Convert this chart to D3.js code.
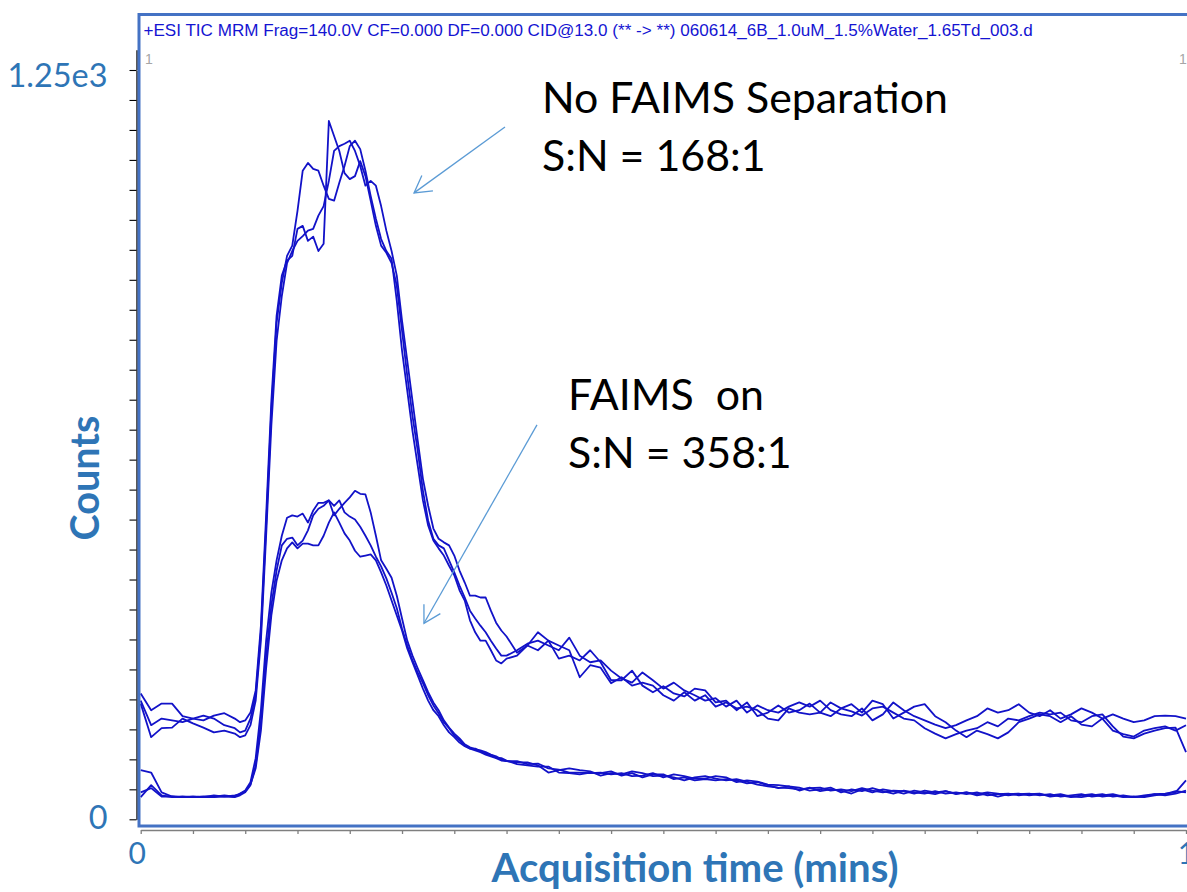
<!DOCTYPE html>
<html><head><meta charset="utf-8">
<script src="https://cdn.jsdelivr.net/npm/d3@7/dist/d3.min.js"></script>
<style>html,body{margin:0;padding:0;background:#fff;overflow:hidden}</style>
</head><body><svg id="c" width="1187" height="892"></svg>
<script>
// ---------------- DATA ----------------
const times = [
0,0.01,0.02,0.03,0.04,0.05,0.06,0.07,0.08,0.09,
0.095,0.1,0.105,0.11,0.115,0.12,0.125,0.13,0.135,0.14,
0.145,0.15,0.155,0.16,0.165,0.17,0.175,0.18,0.185,0.19,
0.195,0.2,0.205,0.21,0.215,0.22,0.225,0.23,0.235,0.24,
0.245,0.25,0.255,0.26,0.265,0.27,0.275,0.28,0.285,0.29,
0.295,0.3,0.305,0.31,0.315,0.32,0.325,0.33,0.335,0.34,
0.345,0.35,
0.36,0.37,0.38,0.39,0.4,0.41,0.42,0.43,0.44,0.45,
0.46,0.47,0.48,0.49,0.5,0.51,0.52,0.53,0.54,0.55,
0.56,0.57,0.58,0.59,0.6,0.61,0.62,0.63,0.64,0.65,
0.66,0.67,0.68,0.69,0.7,0.71,0.72,0.73,0.74,0.75,
0.76,0.77,0.78,0.79,0.8,0.81,0.82,0.83,0.84,0.85,
0.86,0.87,0.88,0.89,0.9,0.91,0.92,0.93,0.94,0.95,
0.96,0.97,0.98,0.99,1];

// No FAIMS separation (three replicate injections)
const noFaims1 = [
210,182,193,193,172,168,165,173,177,168,
162,165,178,215,323,507,698,840,907,932,
940,985,990,965,972,948,960,1165,1140,1115,
1078,1068,1073,1098,1073,1032,990,957,945,928,
890,815,740,673,615,548,498,468,457,452,
432,412,390,370,348,335,323,312,298,285,
273,273,
282,293,298,290,282,303,273,262,265,248,
235,228,245,232,218,228,215,207,198,202,
188,198,178,190,182,178,188,195,188,198,
182,175,172,185,165,175,195,182,172,165,
158,152,157,165,172,185,178,182,192,178,
172,182,168,175,185,178,168,175,168,162,
165,172,173,172,168];
const noFaims2 = [
198,157,168,165,162,168,173,168,157,152,
145,148,168,207,312,490,682,828,895,940,
957,1015,1082,1095,1085,1082,1057,1035,1032,1062,
1090,1123,1132,1118,1082,1040,1002,968,948,935,
865,782,715,648,590,532,490,465,452,440,
423,407,382,365,332,312,298,298,282,265,
260,268,
273,290,312,298,268,273,265,282,262,232,
232,248,223,212,222,210,205,218,215,195,
198,182,195,172,178,190,178,182,193,178,
195,185,180,173,185,188,178,168,165,152,
143,135,142,148,152,162,155,168,165,172,
178,175,178,165,162,172,175,155,138,135,
143,148,152,153,112];
const noFaims3 = [
193,137,152,153,168,160,153,145,148,143,
137,140,157,198,298,473,657,798,873,928,
948,965,973,982,985,1007,1023,1065,1115,1123,
1127,1132,1115,1090,1057,1065,1057,1023,982,948,
907,832,765,698,632,568,523,485,468,462,
457,440,415,395,373,373,370,370,348,328,
315,305,
278,290,282,298,290,282,237,257,253,227,
237,223,228,223,207,198,212,198,207,188,
195,185,188,182,168,165,185,178,175,178,
172,185,192,178,198,192,168,178,188,192,
172,162,148,137,148,142,135,145,162,168,
175,172,162,172,158,155,168,148,142,138,
148,152,155,148,157];

// FAIMS on (three replicate injections)
const faimsOn1 = [
82,78,45,38,37,37,38,38,40,38,
43,48,62,102,182,298,378,432,473,503,
507,505,510,495,515,528,528,532,523,532,
512,505,500,488,473,457,438,422,402,378,
352,318,290,265,245,227,207,190,177,162,
152,140,132,123,118,115,112,108,105,102,
98,97,
95,95,90,78,82,85,82,80,73,77,
75,80,77,72,73,70,65,70,72,68,
65,67,63,58,55,53,52,50,52,53,
48,50,47,52,48,45,48,47,43,48,
45,47,43,45,42,45,43,40,42,43,
40,42,38,40,42,38,40,42,38,37,
40,42,43,45,65];
const faimsOn2 = [
37,57,40,37,38,37,37,40,38,37,
40,45,57,90,162,273,357,415,457,468,
470,457,465,482,507,518,523,532,507,518,
528,537,548,543,542,512,473,432,418,403,
373,335,298,273,252,232,212,195,182,165,
153,143,135,125,120,117,115,112,108,105,
100,97,
97,92,93,85,83,78,78,77,78,75,
77,72,73,77,70,75,72,68,68,72,
70,62,65,63,58,57,55,53,48,50,
53,45,50,47,52,47,43,48,45,43,
47,43,45,42,45,40,42,43,40,42,
43,38,40,37,40,42,38,40,37,38,
37,40,42,47,45];
const faimsOn3 = [
45,52,38,38,37,38,37,37,38,40,
42,47,58,85,148,252,340,398,432,452,
462,452,460,460,457,457,473,495,512,495,
477,465,448,438,440,442,432,412,390,365,
340,315,285,262,240,218,198,182,172,157,
145,137,128,122,118,118,113,110,107,103,
102,98,
92,90,88,88,78,77,75,78,77,80,
73,77,70,75,75,67,70,65,67,65,
67,65,60,62,57,52,55,48,53,47,
50,48,43,50,45,50,47,43,48,45,
42,47,42,45,40,43,38,42,43,40,
42,40,42,38,37,40,42,38,40,37,
38,42,40,43,48];

const yTicks = [0,50,100,150,200,250,300,350,400,450,500,550,600,650,700,750,800,850,900,950,1000,1050,1100,1150,1200,1250];
const yLabelValues = [0,1250];
const yLabelTexts = ["0","1.25e3"];
const xTicks = [0,0.05,0.1,0.15,0.2,0.25,0.3,0.35,0.4,0.45,0.5,0.55,0.6,0.65,0.7,0.75,0.8,0.85,0.9,0.95,1];
const xLabelValues = [0,1];
const xLabelTexts = ["0","1"];

const headerText = "+ESI TIC MRM Frag=140.0V CF=0.000 DF=0.000 CID@13.0 (** -> **) 060614_6B_1.0uM_1.5%Water_1.65Td_003.d";
const xTitle = "Acquisition time (mins)";
const yTitle = "Counts";
// annotations (in data units: time, counts)
const noteTexts = ["No FAIMS Separation","S:N = 168:1","FAIMS  on","S:N = 358:1"];
const noteT = [0.3839,0.3839,0.4088,0.4088];
const noteC = [1178,1082,683,586];
const arrowFromT = [0.3485,0.3791], arrowFromC = [1155,658];
const arrowToT = [0.2615,0.2710], arrowToC = [1045,327];

// ---------------- CHART ----------------
const svg = d3.select('#c');
const x = d3.scaleLinear().domain([0,1]).range([140.7,1186]);
const y = d3.scaleLinear().domain([0,1250]).range([819.3,70]);
const LABEL = '#2e75b6';
const CAL = 'Lato, "Open Sans", sans-serif';

function fitWidth(sel, w){
  const n = sel.node();
  const cur = n.getComputedTextLength();
  const fs = parseFloat(sel.attr('font-size'));
  sel.attr('font-size', (fs*w/cur).toFixed(2));
  return fs*w/cur;
}

// y axis
const yAxis = d3.axisLeft(y).tickValues(yTicks).tickSize(7).tickSizeOuter(0)
  .tickPadding(22)
  .tickFormat(d => { const i = yLabelValues.indexOf(d); return i>=0 ? yLabelTexts[i] : ''; });
const gy = svg.append('g').attr('transform','translate(136.5,0)').call(yAxis);
gy.select('.domain').attr('stroke','#000').attr('stroke-width',1.3);
gy.selectAll('.tick line').attr('stroke','#000').attr('stroke-width',1.1);
gy.selectAll('.tick text').attr('font-family',CAL).attr('font-size',30).attr('fill',LABEL);
const topLab = gy.selectAll('.tick text').filter(d=>d===1250);
const yfs = fitWidth(topLab, 100);
gy.selectAll('.tick text').attr('font-size', yfs.toFixed(2));
topLab.attr('dy','0.5em');
gy.selectAll('.tick text').filter(d=>d===0).attr('dy','0.28em');
gy.append('line').attr('x1',0.5).attr('x2',0.5).attr('y1',y(1250)).attr('y2',y(1283))
  .attr('stroke','#000').attr('stroke-width',1.3);

// x axis
const xAxis = d3.axisBottom(x).tickValues(xTicks).tickSize(4).tickSizeOuter(0)
  .tickPadding(9)
  .tickFormat(d => { const i = xLabelValues.indexOf(d); return i>=0 ? xLabelTexts[i] : ''; });
const gx = svg.append('g').attr('transform','translate(0,830)').call(xAxis);
gx.select('.domain').attr('stroke','#7f7f7f').attr('stroke-width',1.6);
gx.selectAll('.tick line').attr('stroke','#7f7f7f').attr('stroke-width',1.3);
gx.selectAll('.tick text').attr('font-family',CAL).attr('font-size',30).attr('fill',LABEL);
gx.selectAll('.tick text').filter(d=>d===0).attr('dx',-4);

// traces
const line = d3.line().x((d,i)=>x(times[i])).y(d=>y(d));
const series = [noFaims1,noFaims2,noFaims3,faimsOn1,faimsOn2,faimsOn3];
svg.append('g').selectAll('path').data(series).join('path')
  .attr('d', d=>line(d)).attr('fill','none')
  .attr('stroke','#1212c8').attr('stroke-width',1.8).attr('stroke-linejoin','round');

// frame
svg.append('rect').attr('x',139).attr('y',14.5).attr('width',1070).attr('height',811.5)
  .attr('fill','none').attr('stroke','#4472c4').attr('stroke-width',3);

// header
const hdr = svg.append('text').attr('x',143.5).attr('y',36)
  .attr('font-family','"Liberation Sans", Arial, sans-serif').attr('font-size',14)
  .attr('fill','#1414d2').text(headerText);
fitWidth(hdr, 890);
svg.append('text').attr('x',145).attr('y',64).attr('font-family','"Liberation Sans", Arial, sans-serif')
  .attr('font-size',14).attr('fill','#a6a6a6').text('1');
svg.append('text').attr('x',1179).attr('y',64).attr('font-family','"Liberation Sans", Arial, sans-serif')
  .attr('font-size',14).attr('fill','#a6a6a6').text('1');

// titles
const xt = svg.append('text').attr('x',695).attr('y',882).attr('text-anchor','middle')
  .attr('font-family',CAL).attr('font-weight','bold').attr('font-size',34).attr('fill',LABEL).text(xTitle);
fitWidth(xt, 407);
const yt = svg.append('text').attr('transform','translate(99,478) rotate(-90)').attr('text-anchor','middle')
  .attr('font-family',CAL).attr('font-weight','bold').attr('font-size',34).attr('fill',LABEL).text(yTitle);
fitWidth(yt, 125);

// annotations
const notes = svg.append('g').selectAll('text').data(noteTexts).join('text')
  .attr('x',(d,i)=>x(noteT[i])).attr('y',(d,i)=>y(noteC[i]))
  .attr('font-family',CAL).attr('font-size',40).attr('fill','#000')
  .style('white-space','pre').text(d=>d);
const fs = fitWidth(d3.select(notes.nodes()[0]), 406);
notes.attr('font-size', fs.toFixed(2));

// arrows
const ag = svg.append('g').attr('stroke','#5b9bd5').attr('stroke-width',1.3).attr('fill','none');
arrowFromT.forEach((t,i)=>{
  const x1 = x(t), y1 = y(arrowFromC[i]), x2 = x(arrowToT[i]), y2 = y(arrowToC[i]);
  ag.append('line').attr('x1',x1).attr('y1',y1).attr('x2',x2).attr('y2',y2);
  const a = Math.atan2(y1-y2, x1-x2), L = 19, w = 0.52;
  ag.append('path').attr('d', `M${x2+L*Math.cos(a-w)},${y2+L*Math.sin(a-w)}L${x2},${y2}L${x2+L*Math.cos(a+w)},${y2+L*Math.sin(a+w)}`);
});
</script></body></html>
